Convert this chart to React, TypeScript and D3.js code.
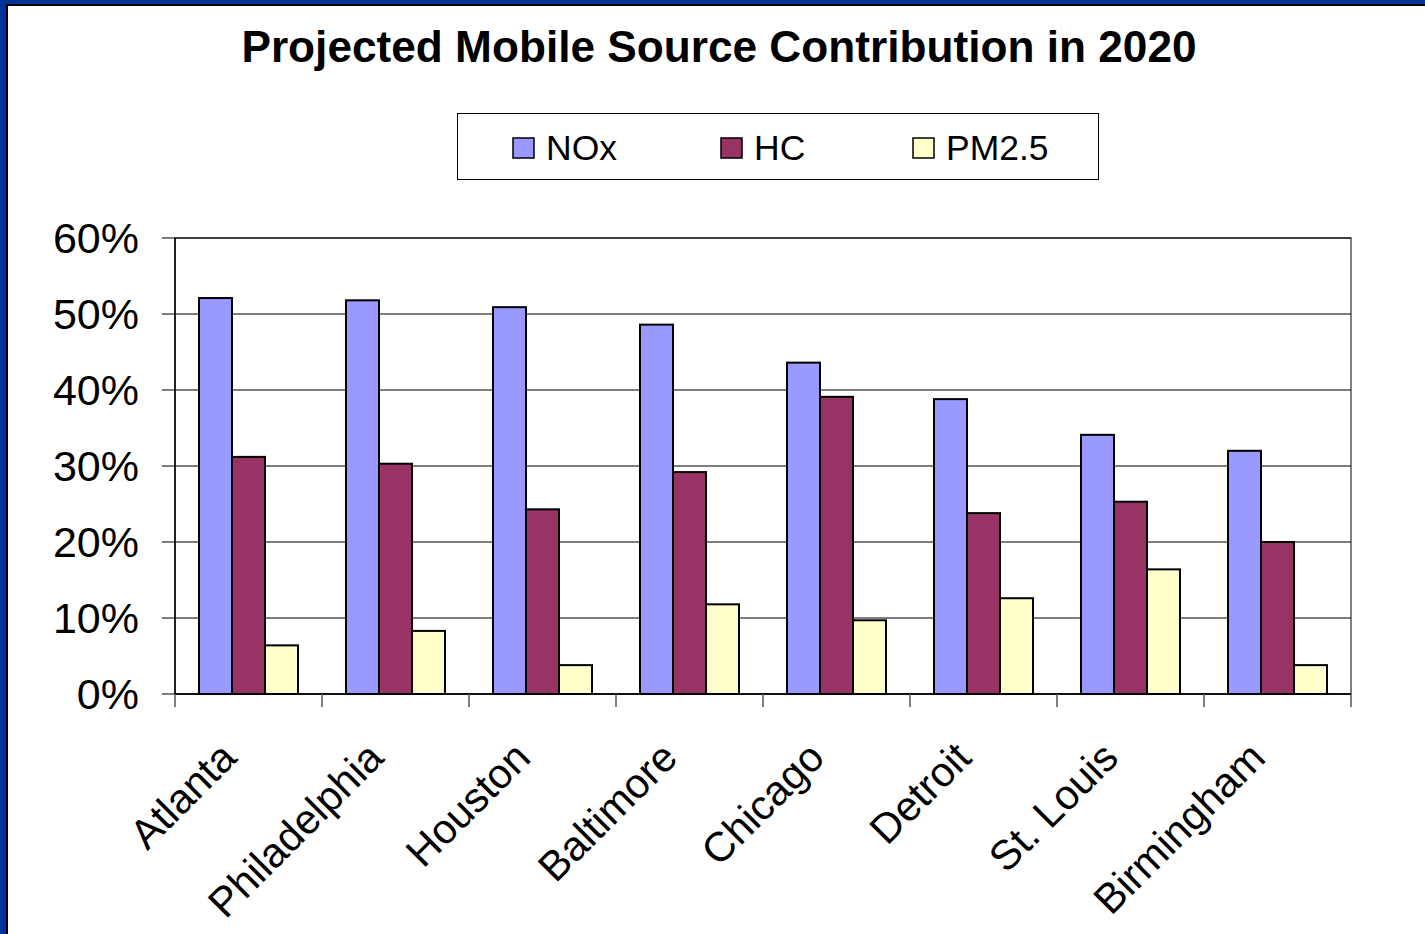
import { scaleBand, scaleLinear } from 'd3';

const cities = ['Atlanta', 'Philadelphia', 'Houston', 'Baltimore', 'Chicago', 'Detroit', 'St. Louis', 'Birmingham'];
const seriesNames = ['NOx', 'HC', 'PM2.5'];
const noxValues = [52.1, 51.8, 50.9, 48.6, 43.6, 38.8, 34.1, 32.0];
const hcValues = [31.2, 30.3, 24.3, 29.2, 39.1, 23.8, 25.3, 20.0];
const pmValues = [6.4, 8.3, 3.8, 11.8, 9.7, 12.6, 16.4, 3.8];
const yTicks = [0, 10, 20, 30, 40, 50, 60];
const colors = ['#9999FF', '#993366', '#FFFFCC'];

const W = 1425;
const H = 934;
const plot = { left: 175, right: 1351, top: 238, bottom: 694 };
const font = '"Liberation Sans", Arial, sans-serif';

export default function App() {
  const series = [noxValues, hcValues, pmValues];

  const x0 = scaleBand<string>().domain(cities).range([plot.left, plot.right]);
  const x1 = scaleBand<string>()
    .domain(seriesNames)
    .range([0, x0.bandwidth()])
    .paddingOuter(0.727);
  const y = scaleLinear().domain([0, 60]).range([plot.bottom, plot.top]);

  const legendX = [513, 721, 913];

  return (
    <svg width={W} height={H} style={{ position: 'absolute', left: 0, top: 0 }} fontFamily={font}>
      {/* slide frame */}
      <rect x={0} y={0} width={W} height={H} fill="#003399" />
      <rect x={6} y={4} width={W - 6} height={H - 4} fill="#000" />
      <rect x={8} y={6} width={W - 8} height={H - 6} fill="#fff" />

      <text x={719} y={62} textAnchor="middle" fontSize={44.2} fontWeight="bold">
        Projected Mobile Source Contribution in 2020
      </text>

      {/* legend */}
      <rect x={457.5} y={113.5} width={641} height={66} fill="#fff" stroke="#000" strokeWidth={1} />
      {seriesNames.map((s, i) => (
        <g key={s}>
          <rect x={legendX[i]} y={138} width={21} height={20} fill={colors[i]} stroke="#000" strokeWidth={1.5} />
          <text x={legendX[i] + 33} y={160} fontSize={35.5}>{s}</text>
        </g>
      ))}

      {/* plot frame and grid */}
      <rect x={plot.left} y={plot.top} width={plot.right - plot.left} height={plot.bottom - plot.top}
        fill="#fff" stroke="#808080" strokeWidth={2} />
      {yTicks.map(t => (
        <g key={t}>
          <line x1={plot.left - 13} x2={plot.right} y1={y(t)} y2={y(t)} stroke="#000" strokeWidth={1.2} />
          <text x={139} y={y(t) + 15} textAnchor="end" fontSize={43}>{t}%</text>
        </g>
      ))}
      <line x1={plot.left} x2={plot.left} y1={plot.top} y2={plot.bottom} stroke="#000" strokeWidth={1.5} />

      {/* bars */}
      {cities.map((c, ci) => (
        <g key={c} transform={`translate(${x0(c)},0)`}>
          {seriesNames.map((s, si) => (
            <rect key={s} x={x1(s)} y={y(series[si][ci])} width={x1.bandwidth()}
              height={y(0) - y(series[si][ci])} fill={colors[si]} stroke="#000" strokeWidth={2} />
          ))}
        </g>
      ))}

      {/* x axis */}
      <line x1={plot.left} x2={plot.right} y1={plot.bottom} y2={plot.bottom} stroke="#000" strokeWidth={1.5} />
      {[...cities.map(c => x0(c) as number), plot.right].map((xv, i) => (
        <line key={i} x1={xv} x2={xv} y1={plot.bottom} y2={plot.bottom + 13} stroke="#555" strokeWidth={1.5} />
      ))}
      {cities.map(c => {
        const cx = (x0(c) as number) + x0.bandwidth() / 2 - 10;
        const cy = plot.bottom + 66;
        return (
          <text key={c} transform={`translate(${cx},${cy}) rotate(-45)`} textAnchor="end" fontSize={41.5}>
            {c}
          </text>
        );
      })}
    </svg>
  );
}
